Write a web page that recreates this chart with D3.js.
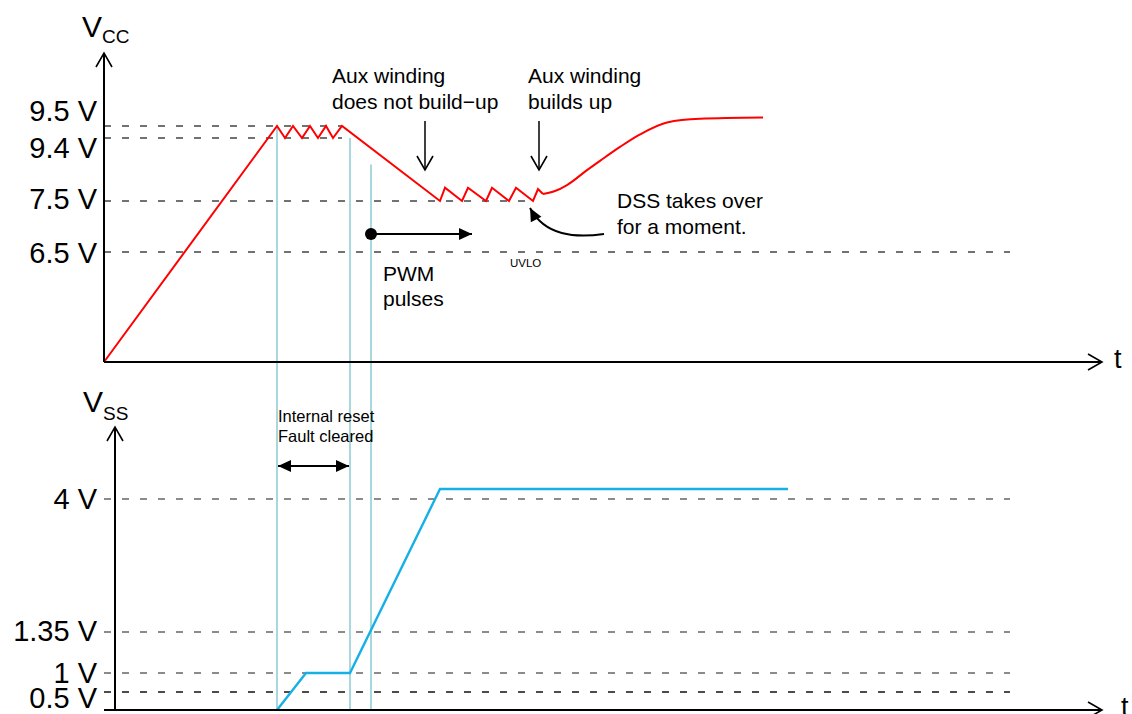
<!DOCTYPE html>
<html>
<head>
<meta charset="utf-8">
<script src="https://cdn.jsdelivr.net/npm/d3@7"></script>
<style>
body { margin: 0; background: #fff; }
svg { display: block; font-family: "Liberation Sans", Arial, sans-serif; }
</style>
</head>
<body>
<div class="container"></div>
<script>
const WIDTH = 1132;
const HEIGHT = 714;

// time is in arbitrary units
const T_MAX = 996;

// Vcc reference levels
const vccLevels = [9.5, 9.4, 7.5, 6.5];
const vccLevelEnds = [238, 238, 429, 906];
const vccLabels = ["9.5 V", "9.4 V", "7.5 V", "6.5 V"];

// Vcc trace: ramp, hiccup 9.5/9.4, fall to 7.5, DSS zigzag
const vccTime  = [0, 173, 181, 189, 198, 206, 214, 222, 229, 238, 336, 341, 358, 364, 382, 388, 405, 412, 429, 434, 439];
const vccValue = [0, 9.5, 9.4, 9.5, 9.4, 9.5, 9.4, 9.5, 9.4, 9.5, 7.5, 7.9, 7.5, 7.9, 7.5, 7.9, 7.5, 7.9, 7.5, 7.86, 7.71];

// Vcc recovery once the aux winding builds up
const recTime  = [439, 451, 463, 483, 496, 516, 536, 563, 596, 659];
const recValue = [7.71, 7.80, 7.98, 8.43, 8.71, 9.13, 9.43, 9.53, 9.56, 9.57];

// Vss reference levels
const vssLevels = [4, 1.35, 1, 0.5];
const vssLevelEnds = [906, 906, 906, 906];
const vssLabels = ["4 V", "1.35 V", "1 V", "0.5 V"];

// Vss trace
const vssTime  = [173, 202, 246, 336, 684];
const vssValue = [0, 1, 1, 4.2, 4.2];

// vertical event markers (time, Vcc where they start)
const markerTime = [173, 246, 267];
const markerTop  = [9.5, 9.4, 8.6];

var svg = d3.select(".container")
    .append("svg")
    .attr("width", WIDTH)
    .attr("height", HEIGHT);

var defs = svg.append("defs");
defs.append("marker")
    .attr("id", "open")
    .attr("markerUnits", "userSpaceOnUse")
    .attr("markerWidth", 30).attr("markerHeight", 30)
    .attr("refX", 0).attr("refY", 0)
    .attr("viewBox", "-15 -15 30 30")
    .attr("orient", "auto")
    .append("path")
    .attr("d", "M-14,-8L0,0L-14,8")
    .attr("fill", "none")
    .attr("stroke", "#000")
    .attr("stroke-width", 1.6);
defs.append("marker")
    .attr("id", "solid")
    .attr("markerUnits", "userSpaceOnUse")
    .attr("markerWidth", 30).attr("markerHeight", 30)
    .attr("refX", 0).attr("refY", 0)
    .attr("viewBox", "-15 -15 30 30")
    .attr("orient", "auto-start-reverse")
    .append("path")
    .attr("d", "M-13,-6L0,0L-13,6Z")
    .attr("fill", "#000");

var x = d3.scaleLinear().domain([0, T_MAX]).range([104, 1100]);
var yVcc = d3.scaleLinear().domain([0, 6.5, 7.5, 9.4, 9.5]).range([362, 252, 201, 138, 126]);
var yVss = d3.scaleLinear().domain([0, 0.5, 1, 1.35, 4]).range([710, 692, 673, 632, 499]);

const VSS_AXIS_X = 115;

// event markers
svg.append("g").selectAll("line")
    .data(markerTime)
    .join("line")
    .attr("x1", d => x(d)).attr("x2", d => x(d))
    .attr("y1", (d, i) => yVcc(markerTop[i]))
    .attr("y2", yVss(0))
    .attr("stroke", "#a8d8dd")
    .attr("stroke-width", 2);

// dashed levels
function dashed(levels, ends, y, colors) {
    svg.append("g").selectAll("line")
        .data(levels)
        .join("line")
        .attr("x1", x(0)).attr("x2", (d, i) => x(ends[i]))
        .attr("y1", d => y(d)).attr("y2", d => y(d))
        .attr("stroke", (d, i) => colors[i])
        .attr("stroke-width", 1.3)
        .attr("stroke-dasharray", "7,11");
}
dashed(vccLevels, vccLevelEnds, yVcc, ["#444", "#444", "#444", "#444"]);
dashed(vssLevels, vssLevelEnds, yVss, ["#666", "#666", "#666", "#111"]);

// traces
var line = d3.line();
svg.append("path")
    .attr("d", line(vccTime.map((t, i) => [x(t), yVcc(vccValue[i])])))
    .attr("fill", "none").attr("stroke", "#ff0000").attr("stroke-width", 2);
svg.append("path")
    .attr("d", d3.line().curve(d3.curveMonotoneX)(recTime.map((t, i) => [x(t), yVcc(recValue[i])])))
    .attr("fill", "none").attr("stroke", "#ff0000").attr("stroke-width", 2);
svg.append("path")
    .attr("d", line(vssTime.map((t, i) => [x(t), yVss(vssValue[i])])))
    .attr("fill", "none").attr("stroke", "#17b0e6").attr("stroke-width", 2.4);

// axes lines with arrows
function arrowLine(x1, y1, x2, y2, marker, w) {
    return svg.append("line")
        .attr("x1", x1).attr("y1", y1).attr("x2", x2).attr("y2", y2)
        .attr("stroke", "#000").attr("stroke-width", w || 2)
        .attr("marker-end", "url(#" + marker + ")");
}
arrowLine(x(0), yVcc(0), x(0), 53, "open");
arrowLine(x(0), yVcc(0), 1102, yVcc(0), "open");
arrowLine(VSS_AXIS_X, yVss(0), VSS_AXIS_X, 427, "open");
arrowLine(x(0), yVss(0), 1102, yVss(0), "open");

// tick labels via d3 axes
const labelNudge = { "9.5": -16, "9.4": 9, "7.5": -3, "4": -1, "1.35": -2, "1": -1, "0.5": 5 };
function labels(scale, levels, texts, ax, pad) {
    var g = svg.append("g")
        .attr("transform", "translate(" + ax + ",0)")
        .call(d3.axisLeft(scale)
            .tickValues(levels)
            .tickFormat((d, i) => texts[i])
            .tickSize(0)
            .tickPadding(pad));
    g.select(".domain").remove();
    g.selectAll("text")
        .attr("font-family", "Liberation Sans, Arial, sans-serif")
        .attr("font-size", 29)
        .attr("fill", "#000")
        .attr("dy", d => (labelNudge[String(d)] || 0) + 10);
}
labels(yVcc, vccLevels, vccLabels, x(0), 7);
labels(yVss, vssLevels, vssLabels, VSS_AXIS_X, 18);

// axis titles
function vTitle(xx, yy, sub, subDy) {
    var t = svg.append("text").attr("x", xx).attr("y", yy).attr("font-size", 30);
    t.append("tspan").text("V");
    t.append("tspan").attr("font-size", 19).attr("dy", subDy).text(sub);
}
vTitle(82, 37, "CC", 6);
vTitle(83, 412, "SS", 8);
svg.append("text").attr("x", 1114).attr("y", 368).attr("font-size", 27).text("t");
svg.append("text").attr("x", 1121).attr("y", 716).attr("font-size", 27).text("t");

// annotations
function multi(xx, yy, lines, size, gap) {
    var t = svg.append("text").attr("x", xx).attr("y", yy).attr("font-size", size);
    lines.forEach((s, i) => t.append("tspan").attr("x", xx).attr("dy", i ? gap : 0).text(s));
}
multi(332, 83, ["Aux winding", "does not build\u2212up"], 21, 26);
multi(528, 83, ["Aux winding", "builds up"], 21, 26);
multi(617, 208, ["DSS takes over", "for a moment."], 21, 26);
multi(383, 281, ["PWM", "pulses"], 21, 25);
multi(278, 422, ["Internal reset", "Fault cleared"], 16.5, 20);
svg.append("text").attr("x", 510).attr("y", 267).attr("font-size", 11.5).text("UVLO");

// down arrows
arrowLine(425, 121, 425, 170, "open", 1.5);
arrowLine(539, 121, 539, 170, "open", 1.5);

// PWM arrow
arrowLine(x(267), 234, 472, 234, "solid", 2);
svg.append("circle").attr("cx", x(267)).attr("cy", 234).attr("r", 6).attr("fill", "#000");

// reset double arrow
svg.append("line")
    .attr("x1", x(173) + 1).attr("y1", 466).attr("x2", x(246) - 1).attr("y2", 466)
    .attr("stroke", "#000").attr("stroke-width", 2)
    .attr("marker-start", "url(#solid)")
    .attr("marker-end", "url(#solid)");

// DSS curved arrow
svg.append("path")
    .attr("d", "M604,234C575,238 545,236 530,208")
    .attr("fill", "none").attr("stroke", "#000").attr("stroke-width", 2)
    .attr("marker-end", "url(#solid)");
</script>
</body>
</html>
